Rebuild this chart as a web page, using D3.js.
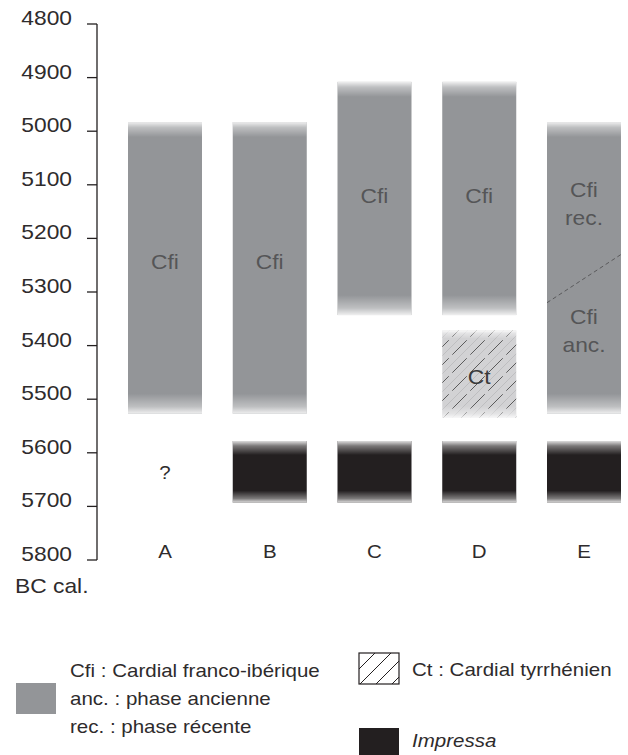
<!DOCTYPE html>
<html>
<head>
<meta charset="utf-8">
<script src="https://cdn.jsdelivr.net/npm/d3@7"></script>
<style>
  body { margin: 0; background: #fff; }
  svg { display: block; }
</style>
</head>
<body>
<svg width="628" height="755"></svg>
<script>
// data (years BC cal.)
const sites = ["A", "B", "C", "D", "E"];
const yearTicks = [4800, 4900, 5000, 5100, 5200, 5300, 5400, 5500, 5600, 5700, 5800];

// Cardial franco-ibérique (Cfi) per site
const cfiStart = [4983, 4983, 4908, 4908, 4983];
const cfiEnd   = [5527, 5527, 5343, 5343, 5527];
const cfiLabelYear = [5244, 5244, 5121, 5121, null];

// site E is split into a recent and an ancient phase (dashed boundary)
const eSplit = [5320, 5230];              // year at left edge, year at right edge
const ePhases = [
    {lines: ["Cfi", "rec."], labelYear: 5136},
    {lines: ["Cfi", "anc."], labelYear: 5373}
];

// Cardial tyrrhénien (Ct) - site D only
const ctSite = "D";
const ctStart = 5372, ctEnd = 5535, ctLabelYear = 5459;

// Impressa per site (null = unknown, "?")
const impStart = [null, 5578, 5578, 5578, 5578];
const impEnd   = [null, 5693, 5693, 5693, 5693];
const unknownYear = 5637;

const legendCfi = ["Cfi : Cardial franco-ibérique", "anc. : phase ancienne", "rec. : phase récente"];
const legendCt = "Ct : Cardial tyrrhénien";
const legendImp = "Impressa";

const svg = d3.select("svg");
const stretch = 1.14;
const font = "'Liberation Sans', Arial, Helvetica, sans-serif";
const gray = "#939598", ink = "#231f20", textInk = "#2e2b2c", barInk = "#555557";

let y = d3.scaleLinear().domain([4800, 5800]).range([24, 560]);
let x = d3.scalePoint().domain(sites).range([165, 584]);
const bw = 74;

// horizontally stretched text like the original figure
function label(g, px, py, txt, size, anchor, color, italic) {
    return g.append("text")
        .attr("transform", `translate(${px},${py}) scale(${stretch},1)`)
        .attr("text-anchor", anchor || "middle")
        .attr("font-family", font)
        .attr("font-size", size)
        .attr("font-style", italic ? "italic" : null)
        .attr("fill", color || textInk)
        .text(txt);
}

//////////// DEFS ////////////
const defs = svg.append("defs");
function fade(id, fromTop) {
    const gr = defs.append("linearGradient").attr("id", id)
        .attr("x1", 0).attr("y1", fromTop ? 0 : 1).attr("x2", 0).attr("y2", fromTop ? 1 : 0);
    gr.append("stop").attr("offset", 0).attr("stop-color", "#fff").attr("stop-opacity", 0.85);
    gr.append("stop").attr("offset", 0.35).attr("stop-color", "#fff").attr("stop-opacity", 0.4);
    gr.append("stop").attr("offset", 1).attr("stop-color", "#fff").attr("stop-opacity", 0);
}
fade("fadeTop", true);
fade("fadeBot", false);

// hatching of the Ct block: sparse dark strokes, faint grey ones in between
const ctPat = defs.append("pattern").attr("id", "ctHatch")
    .attr("patternUnits", "userSpaceOnUse").attr("width", 18).attr("height", 18)
    .attr("x", 441).attr("y", 330);
ctPat.append("rect").attr("width", 18).attr("height", 18).attr("fill", "#d2d2d4");
ctPat.append("path").attr("d", "M-9,18L9,0M9,18L27,0")
    .attr("stroke", "#b9b9bb").attr("stroke-width", 0.8);
ctPat.append("path").attr("d", "M0,18L18,0M-4,4L4,-4M14,22L22,14")
    .attr("stroke", "#3c3c3c").attr("stroke-width", 0.8).attr("stroke-dasharray", "11,5");

const legPat = defs.append("pattern").attr("id", "legHatch")
    .attr("patternUnits", "userSpaceOnUse").attr("width", 16).attr("height", 16)
    .attr("x", 359).attr("y", 653);
legPat.append("rect").attr("width", 16).attr("height", 16).attr("fill", "#fff");
legPat.append("path").attr("d", "M0,16L16,0M-4,4L4,-4M12,20L20,12")
    .attr("stroke", ink).attr("stroke-width", 1);

//////////// AXIS ////////////
const gAxis = svg.append("g");
gAxis.append("line")
    .attr("x1", 97).attr("x2", 97).attr("y1", y(4800)).attr("y2", y(5800))
    .attr("stroke", ink).attr("stroke-width", 1.3);
gAxis.selectAll(".tick").data(yearTicks).enter().append("line")
    .attr("x1", 87).attr("x2", 97)
    .attr("y1", d => y(d)).attr("y2", d => y(d))
    .attr("stroke", ink).attr("stroke-width", 1.3);
yearTicks.forEach(t => label(gAxis, 72, y(t) + 1, t, 20, "end"));
label(gAxis, 15, 593, "BC cal.", 20, "start");

//////////// BARS ////////////
const gBars = svg.append("g");

function bar(site, a, b, fill, topFade, botFade) {
    const x0 = x(site) - bw / 2, y0 = y(a), y1 = y(b);
    gBars.append("rect").attr("x", x0).attr("y", y0).attr("width", bw).attr("height", y1 - y0).attr("fill", fill);
    gBars.append("rect").attr("x", x0).attr("y", y0).attr("width", bw).attr("height", topFade).attr("fill", "url(#fadeTop)");
    gBars.append("rect").attr("x", x0).attr("y", y1 - botFade).attr("width", bw).attr("height", botFade).attr("fill", "url(#fadeBot)");
}

sites.forEach((s, i) => {
    bar(s, cfiStart[i], cfiEnd[i], gray, 15, 20);
    if (cfiLabelYear[i] != null) label(gBars, x(s), y(cfiLabelYear[i]) + 7, "Cfi", 20, "middle", barInk);
    if (impStart[i] != null) {
        bar(s, impStart[i], impEnd[i], ink, 14, 12);
    } else {
        label(gBars, x(s), y(unknownYear) + 6, "?", 18);
    }
});

// Ct
bar(ctSite, ctStart, ctEnd, "url(#ctHatch)", 8, 12);
label(gBars, x(ctSite), y(ctLabelYear) + 7, "Ct", 20, "middle", "#3a3a3a");

// site E phases
gBars.append("line")
    .attr("x1", x("E") - bw / 2).attr("x2", x("E") + bw / 2)
    .attr("y1", y(eSplit[0])).attr("y2", y(eSplit[1]))
    .attr("stroke", "#5a5a5c").attr("stroke-width", 1).attr("stroke-dasharray", "4,3");
ePhases.forEach(p => {
    const cy = y(p.labelYear);
    label(gBars, x("E"), cy - 7, p.lines[0], 20, "middle", barInk);
    label(gBars, x("E"), cy + 21, p.lines[1], 20, "middle", barInk);
});

// site letters
sites.forEach(s => label(svg, x(s), 558, s, 18));

//////////// LEGEND ////////////
const gLeg = svg.append("g");
gLeg.append("rect").attr("x", 16).attr("y", 683).attr("width", 40).attr("height", 31).attr("fill", gray);
legendCfi.forEach((t, i) => label(gLeg, 70, 677 + i * 28, t, 18, "start"));

gLeg.append("rect").attr("x", 359).attr("y", 653).attr("width", 40).attr("height", 31)
    .attr("fill", "url(#legHatch)").attr("stroke", ink).attr("stroke-width", 1.2);
label(gLeg, 412, 676, legendCt, 18, "start");

gLeg.append("rect").attr("x", 359).attr("y", 728).attr("width", 40).attr("height", 27).attr("fill", ink);
label(gLeg, 412, 747, legendImp, 18, "start", textInk, true);
</script>
</body>
</html>
